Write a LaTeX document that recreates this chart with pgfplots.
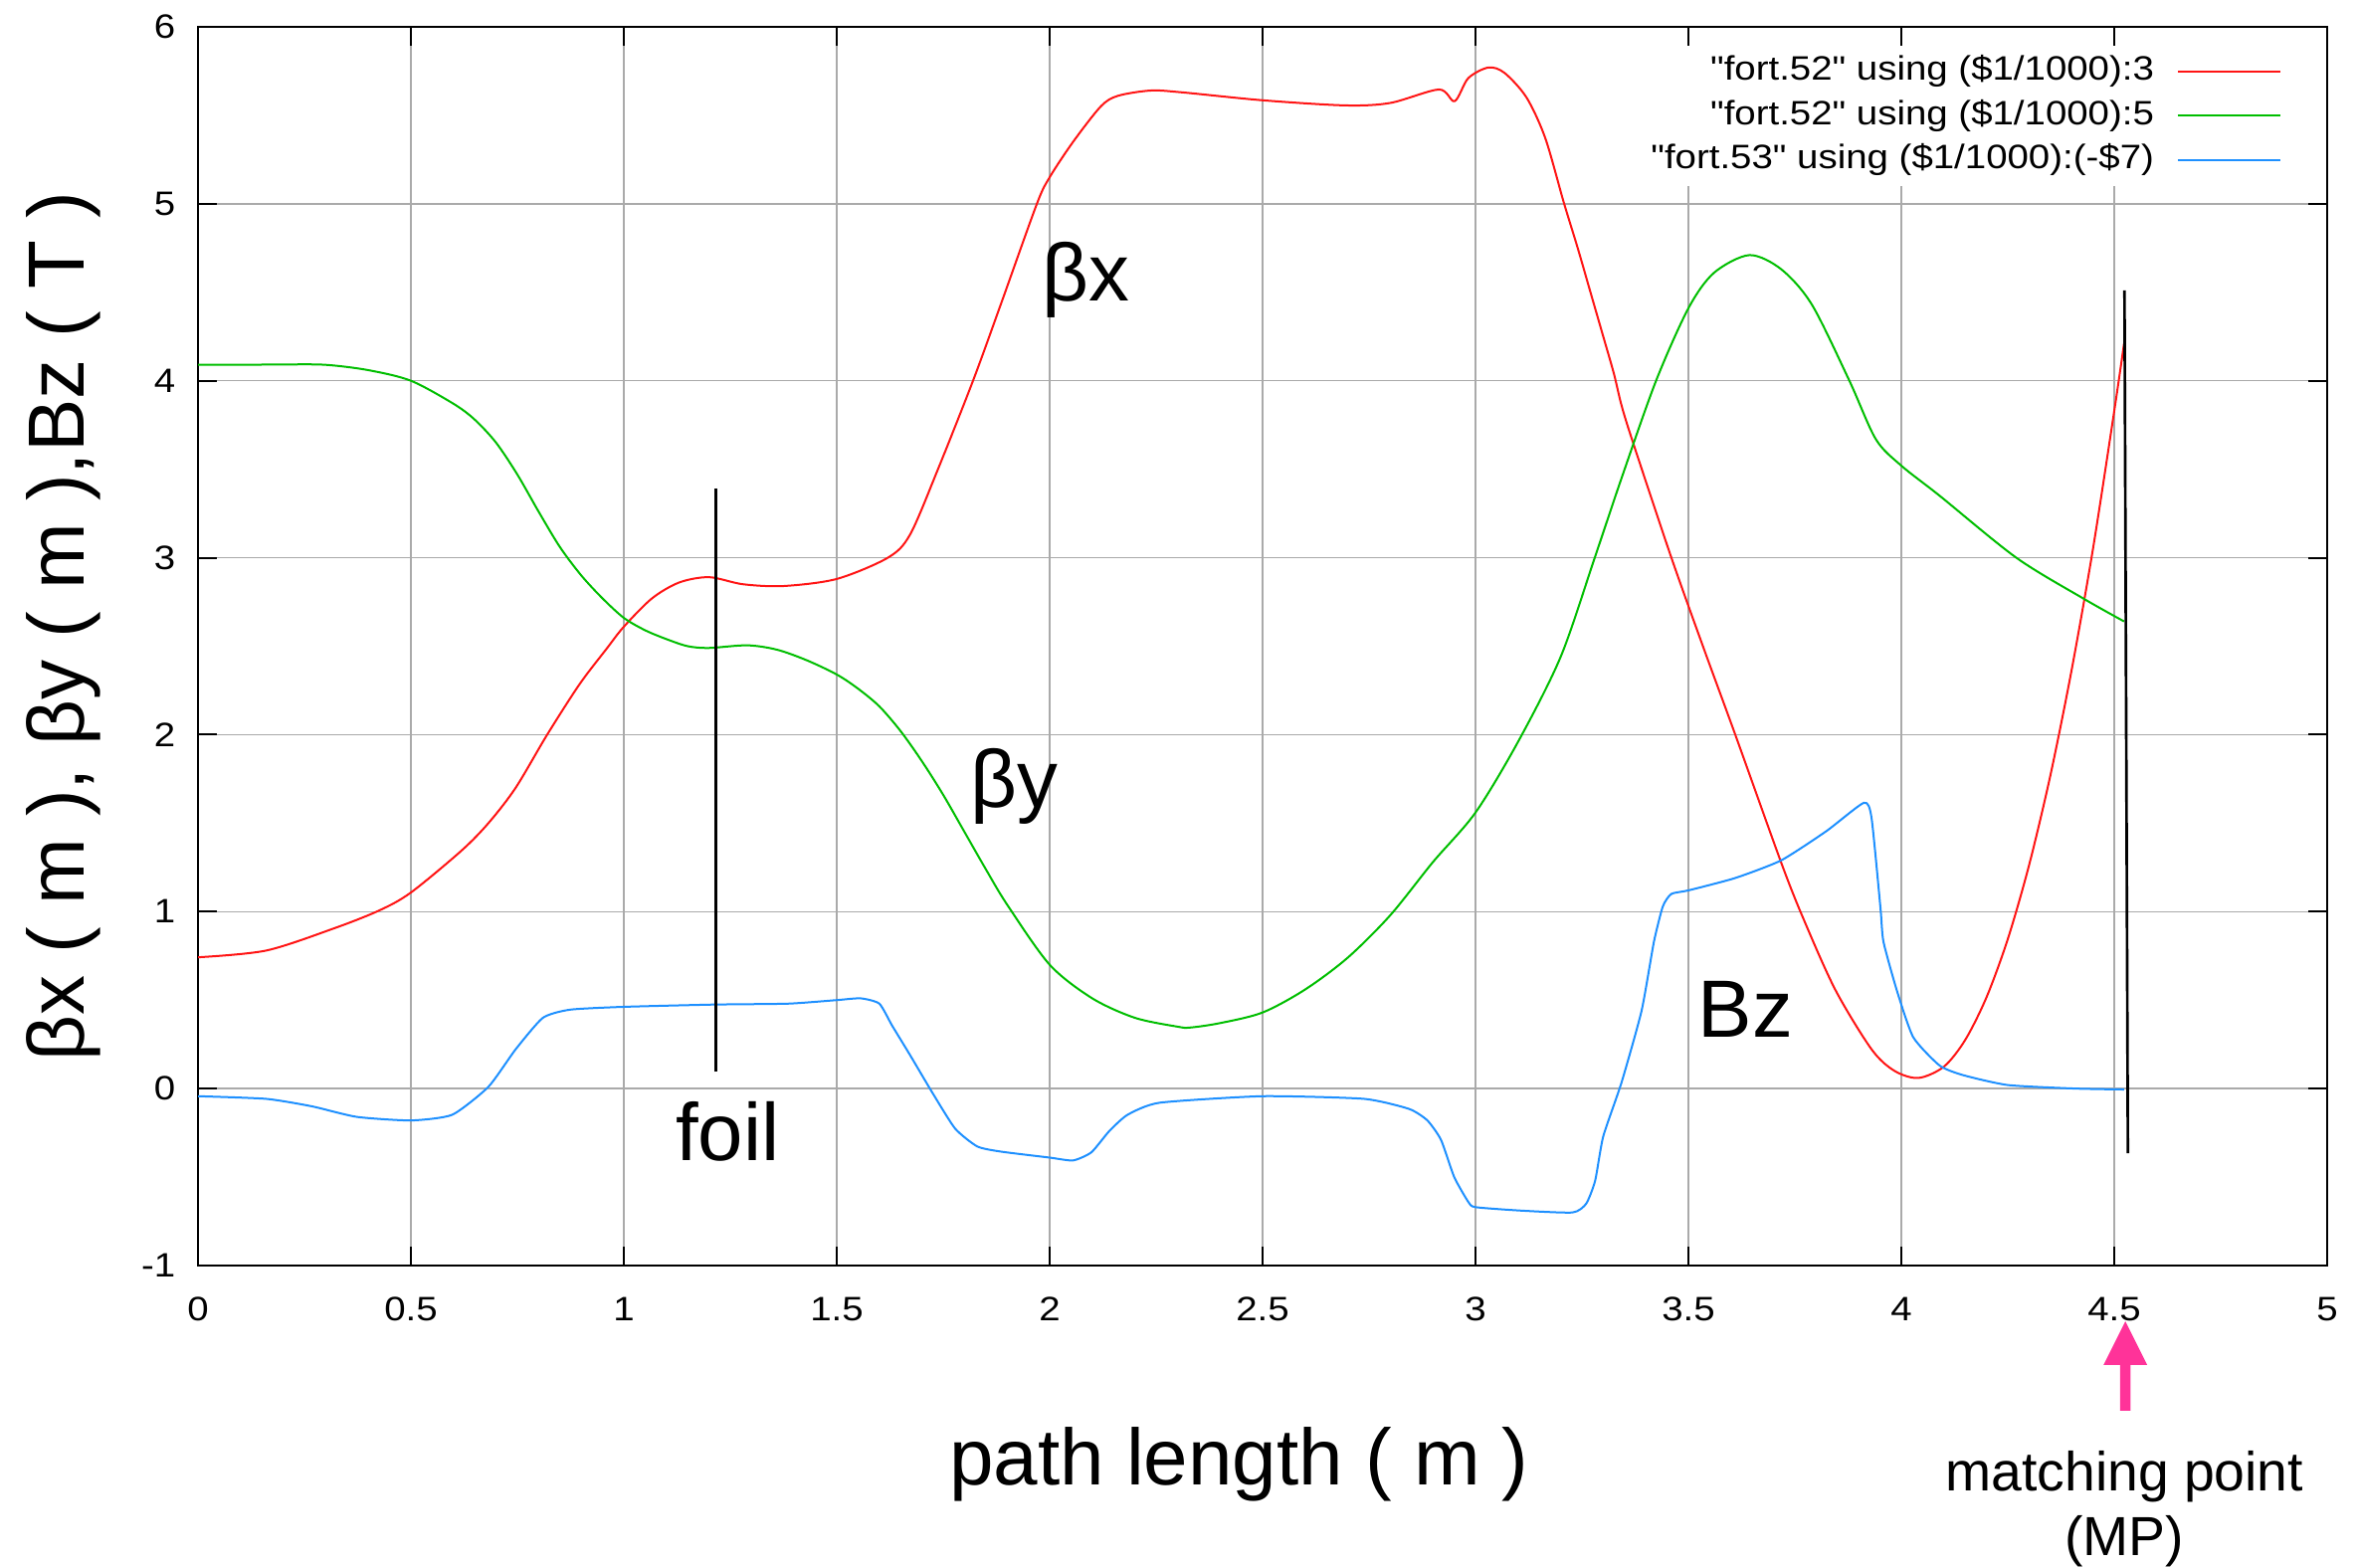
\documentclass[border=0pt]{standalone}
\usepackage{fontspec}
\setmainfont{Liberation Sans}
\newfontfamily\gfont{Liberation Sans}[FakeStretch=1.13]
\usepackage{pgfplots}
\pgfplotsset{compat=1.18}
\definecolor{cred}{RGB}{255,20,20}
\definecolor{cgreen}{RGB}{0,190,0}
\definecolor{cblue}{RGB}{30,144,255}
\definecolor{gridgray}{RGB}{170,170,170}
\definecolor{mpink}{RGB}{255,51,153}
\begin{document}
\begin{tikzpicture}
\begin{axis}[
  name=ax, at={(0,0)}, anchor=south west,
  scale only axis, width=642pt, height=373.5pt,
  xmin=0, xmax=5, ymin=-1, ymax=6,
  xtick={0,0.5,1,1.5,2,2.5,3,3.5,4,4.5,5},
  ytick={-1,0,1,2,3,4,5,6},
  tick align=inside, tick pos=both, major tick length=5.7pt,
  grid=major, major grid style={color=gridgray, line width=0.45pt},
  axis line style={line width=0.6pt},
  every tick/.style={black, line width=0.6pt},
  /pgf/number format/assume math mode=true,
  ticklabel style={font=\gfont\fontsize{10.2}{12}\selectfont},
  xticklabel style={anchor=base, inner sep=0pt, yshift=-16.5pt},
  yticklabel style={anchor=east, inner sep=0pt, xshift=-6.6pt},
  xlabel={path length ( m )},
  xlabel style={at={(axis description cs:0.489,-0.1775)}, anchor=base, inner sep=0pt, font=\fontsize{24}{28}\selectfont},
  ylabel={βx ( m ), βy ( m ),Bz ( T )},
  ylabel style={at={(axis description cs:-0.0533,0.516)}, anchor=base, inner sep=0pt, font=\fontsize{24}{28}\selectfont},
  clip mode=individual,
  legend plot pos=right,
  legend cell align=right,
  legend image code/.code={\draw[#1] (0pt,0pt) -- (31pt,0pt);},
  legend style={draw=none, fill=white, at={(rel axis cs:1,1)}, anchor=north east,
    xshift=-10.5pt, yshift=-5.5pt, inner sep=3pt,
    font=\gfont\fontsize{10.2}{12}\selectfont,
    row sep=3.6pt,
    nodes={inner sep=0pt, text height=7.5pt, text depth=2.2pt},
    /tikz/every odd column/.style={column sep=6.9pt}},
]
\addplot[cred, line width=0.6pt, smooth, tension=0.5] coordinates {
(0,0.742) (0.16,0.78) (0.32,0.906) (0.426,1.007) (0.5,1.108) (0.618,1.343) (0.682,1.5) (0.746,1.70) (0.82,2.0) (0.896,2.285) (0.96,2.487) (1.0,2.61) (1.066,2.77) (1.13,2.86) (1.2,2.89) (1.28,2.85) (1.375,2.84) (1.5,2.88) (1.62,3.0) (1.672,3.13) (1.736,3.49) (1.82,4.0) (1.885,4.43) (1.97,5.0) (2.0,5.15) (2.055,5.35) (2.12,5.55) (2.16,5.61) (2.237,5.64) (2.31,5.63) (2.5,5.585) (2.695,5.556) (2.80,5.57) (2.914,5.646) (2.951,5.58) (2.983,5.71) (3.03,5.77) (3.068,5.74) (3.12,5.60) (3.164,5.37) (3.207,5.01) (3.24,4.75) (3.27,4.50) (3.30,4.25) (3.325,4.04) (3.343,3.86) (3.37,3.65) (3.46,3.0) (3.536,2.487) (3.61,2.0) (3.718,1.276) (3.77,0.96) (3.845,0.558) (3.93,0.222) (3.984,0.10) (4.04,0.06) (4.1,0.124) (4.15,0.275) (4.2,0.516) (4.25,0.845) (4.3,1.263) (4.35,1.77) (4.4,2.367) (4.45,3.05) (4.5,3.83) (4.523,4.21)
};
\addlegendentry{"fort.52" using (\$1/1000):3}
\addplot[cgreen, line width=0.6pt, smooth, tension=0.5] coordinates {
(0,4.09) (0.1,4.09) (0.2,4.092) (0.3,4.09) (0.4,4.06) (0.5,4.0) (0.6,3.87) (0.65,3.78) (0.7,3.65) (0.75,3.47) (0.8,3.26) (0.85,3.06) (0.9,2.9) (0.95,2.77) (1.0,2.66) (1.05,2.59) (1.1,2.54) (1.15,2.50) (1.2,2.49) (1.29,2.505) (1.36,2.48) (1.43,2.42) (1.5,2.34) (1.55,2.26) (1.6,2.16) (1.65,2.02) (1.7,1.85) (1.75,1.66) (1.8,1.45) (1.85,1.24) (1.9,1.04) (2.0,0.70) (2.1,0.51) (2.2,0.40) (2.3,0.35) (2.33,0.345) (2.4,0.37) (2.5,0.43) (2.6,0.56) (2.7,0.74) (2.8,0.98) (2.9,1.28) (3.0,1.56) (3.1,1.96) (3.2,2.44) (3.28,3.0) (3.343,3.45) (3.424,4.0) (3.5,4.41) (3.56,4.61) (3.643,4.71) (3.718,4.63) (3.79,4.43) (3.878,4.0) (3.94,3.67) (4.0,3.52) (4.09,3.35) (4.27,3.0) (4.427,2.77) (4.523,2.64)
};
\addlegendentry{"fort.52" using (\$1/1000):5}
\addplot[cblue, line width=0.6pt, smooth, tension=0.35] coordinates {
(0,-0.043) (0.16,-0.058) (0.267,-0.10) (0.373,-0.16) (0.5,-0.18) (0.597,-0.148) (0.682,0.01) (0.746,0.222) (0.81,0.40) (0.874,0.446) (1.0,0.462) (1.215,0.475) (1.386,0.48) (1.5,0.50) (1.556,0.51) (1.6,0.48) (1.63,0.356) (1.672,0.19) (1.725,-0.025) (1.778,-0.226) (1.83,-0.327) (1.885,-0.356) (2.0,-0.39) (2.055,-0.406) (2.098,-0.36) (2.14,-0.24) (2.183,-0.148) (2.258,-0.08) (2.5,-0.043) (2.738,-0.058) (2.844,-0.115) (2.887,-0.18) (2.919,-0.29) (2.95,-0.50) (2.983,-0.64) (3.0,-0.67) (3.11,-0.69) (3.228,-0.70) (3.26,-0.65) (3.281,-0.52) (3.30,-0.27) (3.343,0.035) (3.39,0.44) (3.419,0.83) (3.44,1.03) (3.46,1.10) (3.5,1.12) (3.61,1.19) (3.718,1.29) (3.824,1.455) (3.912,1.615) (3.93,1.53) (3.951,1.02) (3.958,0.83) (3.99,0.55) (4.028,0.29) (4.09,0.13) (4.145,0.076) (4.25,0.02) (4.41,0.0) (4.523,-0.005)
};
\addlegendentry{"fort.53" using (\$1/1000):(-\$7)}
\addplot[black, line width=0.8pt, forget plot] coordinates {(1.216,0.094) (1.216,3.39)};
\addplot[black, line width=0.8pt, forget plot] coordinates {(4.524,4.51) (4.532,-0.365)};
\node[anchor=base west, inner sep=0pt, font=\fontsize{24.5}{28}\selectfont] at (axis cs:1.981,4.453) {βx};
\node[anchor=base west, inner sep=0pt, font=\fontsize{24.5}{28}\selectfont] at (axis cs:1.813,1.59) {βy};
\node[anchor=base west, inner sep=0pt, font=\fontsize{24.5}{28}\selectfont] at (axis cs:3.521,0.289) {Bz};
\node[anchor=base west, inner sep=0pt, font=\fontsize{24.5}{28}\selectfont] at (axis cs:1.120,-0.406) {foil};
\coordinate (mp) at (axis cs:4.526,-1);
\node[anchor=base, inner sep=0pt, yshift=-67.8pt, font=\fontsize{16.6}{19}\selectfont] at (axis cs:4.524,-1) {matching point};
\node[anchor=base, inner sep=0pt, yshift=-87.3pt, font=\fontsize{16.6}{19}\selectfont] at (axis cs:4.524,-1) {(MP)};
\end{axis}
\fill[mpink] (mp) ++(0pt,-16.8pt) -- ++(6.6pt,-13.2pt) -- ++(-5pt,0pt) -- ++(0pt,-13.8pt) -- ++(-3.2pt,0pt) -- ++(0pt,13.8pt) -- ++(-5pt,0pt) -- cycle;
\pgfresetboundingbox
\path[use as bounding box] (-59.7pt,-91.2pt) rectangle (651.3pt,381.6pt);
\end{tikzpicture}
\end{document}
